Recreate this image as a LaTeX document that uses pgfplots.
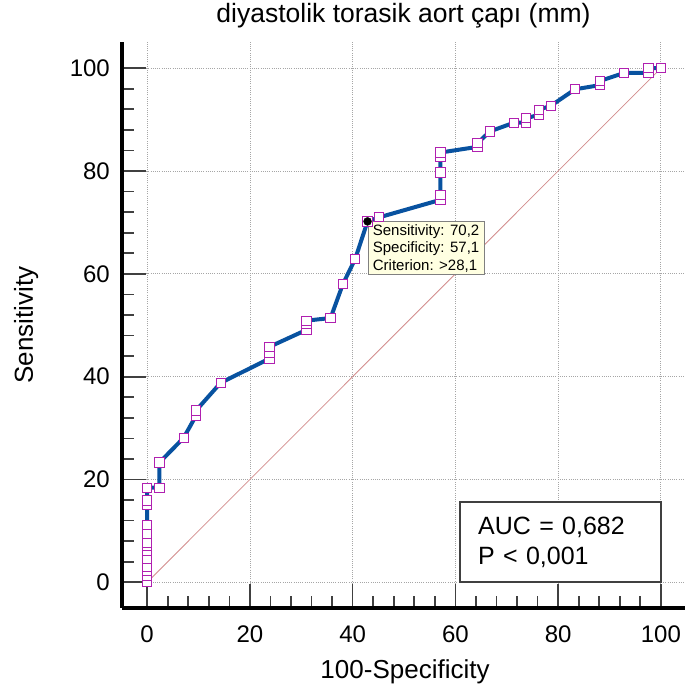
\documentclass[border=0pt]{standalone}
\usepackage{pgfplots}
\pgfplotsset{compat=1.18}
\usepackage{fontspec}
\setmainfont{Liberation Sans}
\definecolor{roc}{RGB}{8,82,160}
\definecolor{mk}{RGB}{176,32,176}
\definecolor{diag}{RGB}{210,140,140}
\definecolor{tip}{RGB}{255,255,225}
\definecolor{tickc}{RGB}{64,64,64}
\begin{document}
\begin{tikzpicture}
\useasboundingbox (-122pt,-82pt) rectangle (563pt,608pt);
\begin{axis}[
  at={(0,0)}, anchor=south west,
  scale only axis, width=563pt, height=566pt,
  xmin=-4.9, xmax=104.7, ymin=-5.0, ymax=105.1,
  axis x line=bottom, axis y line=left,
  axis line style={line width=4pt, -, black},
  xtick={0,20,...,100}, ytick={0,20,...,100},
  minor x tick num=4, minor y tick num=4,
  tick align=inside,
  major tick length=24pt, minor tick length=12pt,
  every tick/.style={tickc, line width=1.7pt},
  grid=major,
  major grid style={gray!70, line width=0.8pt, dash pattern=on 1pt off 1.2pt},
  /pgf/number format/assume math mode=true,
  tick label style={font=\fontsize{24}{28}\selectfont},
  xticklabel style={anchor=base, yshift=-34pt},
  yticklabel style={anchor=east, inner sep=0pt, xshift=-12pt},
  title={diyastolik torasik aort çapı (mm)},
  title style={at={(rel axis cs:0.5,1.0247)}, anchor=base, font=\fontsize{26.5}{30}\selectfont},
  xlabel={100-Specificity},
  xlabel style={at={(rel axis cs:0.5027,-0.1237)}, anchor=base, font=\fontsize{26}{30}\selectfont},
  ylabel={Sensitivity},
  ylabel style={at={(rel axis cs:-0.1581,0.5)}, anchor=base, rotate=0, font=\fontsize{26}{30}\selectfont},
]
\addplot[diag, line width=0.8pt] coordinates {(0,0) (100,100)};
\addplot[roc, line width=4pt, mark=square*, mark size=4.6pt,
  mark options={draw=mk, fill=white, line width=1pt, solid}] coordinates {
(0,0) (0,1.3) (0,2.2) (0,3.0) (0,4.6) (0,6.2) (0,7.0) (0,7.7) (0,9.4) (0,11.2)
(0,15.0) (0,15.9) (0,18.4) (2.4,18.4) (2.4,23.3) (7.1,28.1) (9.5,32.4) (9.5,33.4)
(14.3,38.8) (23.8,43.5) (23.8,44.7) (23.8,45.8) (31.0,49.1) (31.0,50.3) (31.0,50.9)
(35.7,51.4) (38.1,58.0) (40.5,62.9) (42.9,70.2) (45.2,71.0) (57.1,74.4) (57.1,75.4)
(57.1,79.7) (57.1,82.8) (57.1,83.6) (64.3,84.7) (64.3,85.4) (66.7,87.7) (71.4,89.4)
(73.8,89.4) (73.8,90.3) (76.2,90.9) (76.2,91.9) (78.6,92.7) (83.3,95.9) (88.1,96.7)
(88.1,97.5) (92.9,99.1) (97.6,99.1) (97.6,100) (100,100)
};
\addplot[only marks, mark=*, mark size=4pt, black] coordinates {(42.9,70.2)};
\node[anchor=north west, fill=tip, draw=gray, line width=0.6pt, align=left,
  inner xsep=5pt, inner ysep=2.5pt, font=\fontsize{15}{17.5}\selectfont]
  at (axis cs:42.9,70.2) {Sensitivity: 70,2\\Specificity: 57,1\\Criterion: >28,1};
\node[anchor=south east, draw=tickc, line width=2.5pt, fill=white, align=left,
  text width=165pt, inner xsep=18pt, minimum height=80pt,
  font=\fontsize{25}{30}\selectfont]
  at (axis cs:100.3,-0.2) {AUC = 0,682\\P < 0,001};
\end{axis}
\end{tikzpicture}
\end{document}
